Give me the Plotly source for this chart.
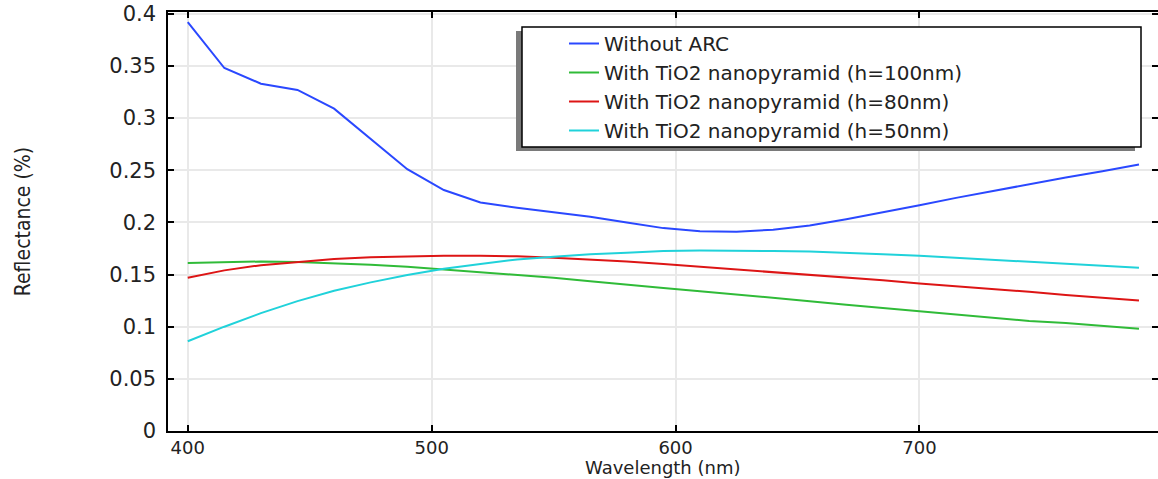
import plotly.graph_objects as go

wavelength = [400, 415, 430, 445, 460, 475, 490, 505, 520, 535, 550, 565, 580, 595,
              610, 625, 640, 655, 670, 685, 700, 715, 730, 745, 760, 775, 790]

without_arc = [0.392, 0.348, 0.333, 0.327, 0.309, 0.280, 0.251, 0.231, 0.219, 0.214,
               0.210, 0.2055, 0.200, 0.1945, 0.1915, 0.191, 0.193, 0.197, 0.203, 0.2095,
               0.2165, 0.2235, 0.230, 0.237, 0.243, 0.249, 0.2555]

h100 = [0.161, 0.162, 0.1625, 0.162, 0.161, 0.1595, 0.1575, 0.155, 0.1525, 0.150,
        0.147, 0.1435, 0.140, 0.137, 0.134, 0.131, 0.128, 0.1245, 0.121, 0.118,
        0.1145, 0.1115, 0.1085, 0.1055, 0.1035, 0.101, 0.098]

h80 = [0.147, 0.154, 0.159, 0.162, 0.165, 0.1665, 0.1675, 0.168, 0.168, 0.1675,
       0.166, 0.1645, 0.1625, 0.160, 0.1575, 0.155, 0.1525, 0.150, 0.147, 0.1445,
       0.1415, 0.139, 0.136, 0.1335, 0.1305, 0.128, 0.125]

h50 = [0.086, 0.100, 0.113, 0.1245, 0.1345, 0.1425, 0.1495, 0.1555, 0.160, 0.1645,
       0.167, 0.1695, 0.171, 0.1725, 0.173, 0.173, 0.1725, 0.172, 0.171, 0.1695,
       0.168, 0.166, 0.164, 0.162, 0.160, 0.158, 0.1565]

series_names = ["Without ARC",
                "With TiO2 nanopyramid (h=100nm)",
                "With TiO2 nanopyramid (h=80nm)",
                "With TiO2 nanopyramid (h=50nm)"]
series_colors = ["#2a48ff", "#30bb38", "#dd1515", "#20d2da"]

x_ticks = [400, 500, 600, 700]
y_ticks = [0, 0.05, 0.1, 0.15, 0.2, 0.25, 0.3, 0.35, 0.4]
y_tick_text = ["0", "0.05", "0.1", "0.15", "0.2", "0.25", "0.3", "0.35", "0.4"]
x_title = "Wavelength (nm)"
y_title = "Reflectance (%)"

fig = go.Figure()
for name, vals, col in zip(series_names, [without_arc, h100, h80, h50], series_colors):
    fig.add_trace(go.Scatter(x=wavelength, y=vals, mode="lines", name=name,
                             line=dict(color=col, width=2)))

W, H = 1158, 479
ml, mr, mt, mb = 168, 0, 12, 48
pw, ph = W - ml - mr, H - mt - mb

def px_to_paper(x, y):
    return (x - ml) / pw, 1 - (y - mt) / ph

# legend box (frame + shadow) in pixel terms
bx0, by0, bx1, by1 = 522, 27, 1141, 147
sx0, sy0 = px_to_paper(bx0 - 6, by0 + 4)
sx1, sy1 = px_to_paper(bx1 - 6, by1 + 4)
fx0, fy0 = px_to_paper(bx0, by0)
fx1, fy1 = px_to_paper(bx1, by1)
lx, ly = px_to_paper(564, 24)

axis_common = dict(
    showline=True, linecolor="black", linewidth=1.5, mirror="ticks",
    ticks="inside", ticklen=6, tickcolor="black", tickwidth=1.5,
    showgrid=True, gridcolor="#e9e9e9", gridwidth=2, zeroline=False,
    automargin=False,
)

fig.update_layout(
    width=W, height=H,
    margin=dict(l=ml, r=mr, t=mt, b=mb, pad=0, autoexpand=False),
    paper_bgcolor="white", plot_bgcolor="white",
    showlegend=True,
    legend=dict(x=lx, y=ly, xanchor="left", yanchor="top",
                bgcolor="rgba(0,0,0,0)", borderwidth=0,
                font=dict(family="DejaVu Sans", size=20, color="#222"),
                tracegroupgap=0),
    shapes=[
        dict(type="rect", xref="paper", yref="paper", x0=sx0, y0=sy0, x1=sx1, y1=sy1,
             fillcolor="#7a7a7a", line=dict(width=0), layer="above"),
        dict(type="rect", xref="paper", yref="paper", x0=fx0, y0=fy0, x1=fx1, y1=fy1,
             fillcolor="white", line=dict(color="black", width=1.5), layer="above"),
    ],
    annotations=[
        dict(text=x_title, xref="paper", yref="paper", x=0.5, y=0,
             xanchor="center", yanchor="bottom", yshift=-mb, showarrow=False,
             borderpad=0,
             font=dict(family="DejaVu Sans", size=18, color="#222")),
    ],
    xaxis=dict(range=[391.9, 797.8], tickvals=x_ticks,
               tickfont=dict(family="DejaVu Sans", size=18, color="#222"),
               **axis_common),
    yaxis=dict(range=[0, 0.4017], tickvals=y_ticks, ticktext=y_tick_text,
               ticklabelstandoff=6,
               tickfont=dict(family="DejaVu Sans", size=21, color="#222"),
               title=dict(text=y_title, standoff=73,
                          font=dict(family="DejaVu Sans Condensed, Roboto Condensed, Roboto",
                                    size=21, color="#222")),
               **axis_common),
)

fig.write_html("out.html",
               config={"displayModeBar": False},
               post_script="document.body.style.margin='0';document.body.style.overflow='hidden';")
